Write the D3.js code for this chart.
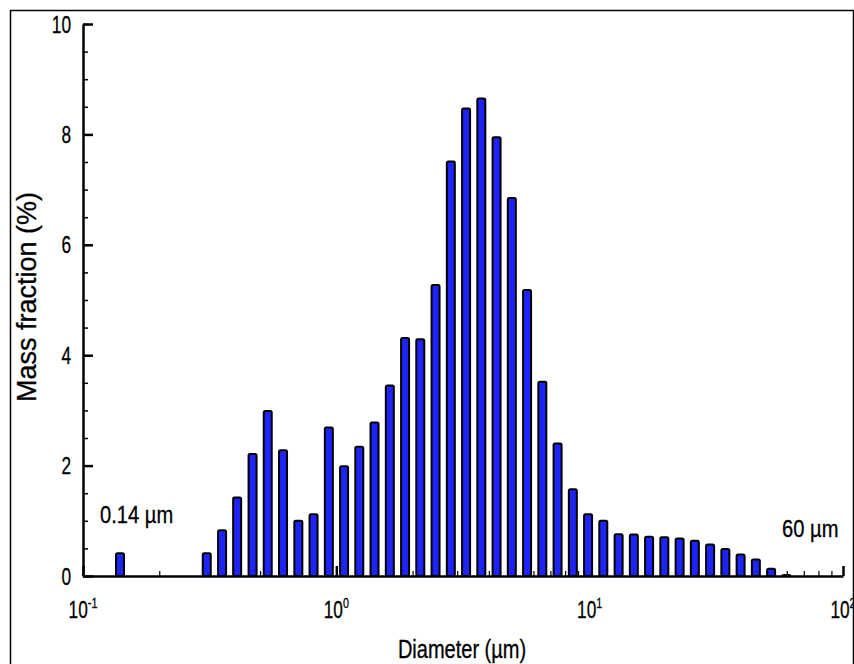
<!DOCTYPE html>
<html>
<head>
<meta charset="utf-8">
<script src="https://cdn.jsdelivr.net/npm/d3@7"></script>
<style>
  body { margin: 0; background: #fff; }
  text { font-family: "Liberation Sans", Arial, sans-serif; fill: #000; }
</style>
</head>
<body>
<div id="chart"></div>
<script>
// Bin diameters (um) and mass fraction (%)
const diameters = [0.14,
  0.308, 0.354, 0.406, 0.467, 0.536, 0.616, 0.708, 0.813, 0.934, 1.073,
  1.232, 1.415, 1.626, 1.868, 2.145, 2.464, 2.831, 3.252, 3.735, 4.291,
  4.928, 5.661, 6.503, 7.470, 8.581, 9.856, 11.32, 13.01, 14.94, 17.16,
  19.71, 22.65, 26.01, 29.88, 34.33, 39.43, 45.29, 52.03, 59.77];
const massFraction = [0.41,
  0.41, 0.83, 1.42, 2.21, 2.99, 2.28, 1.00, 1.12, 2.69, 1.99,
  2.34, 2.78, 3.45, 4.31, 4.29, 5.27, 7.51, 8.47, 8.65, 7.95,
  6.85, 5.18, 3.52, 2.40, 1.57, 1.12, 1.00, 0.755, 0.75, 0.71,
  0.70, 0.68, 0.64, 0.57, 0.49, 0.39, 0.30, 0.13, 0.02];
const yTicks = [0, 2, 4, 6, 8, 10];
const xTicks = [0.1, 1, 10, 100];
const xTickExps = ["-1", "0", "1", "2"];
const notes = ["0.14 \u00b5m", "60 \u00b5m"];

const W = 854, H = 664;
const svg = d3.select("#chart").append("svg")
  .attr("width", W).attr("height", H);

// Outer frame
svg.append("rect")
  .attr("x", 10.5).attr("y", 10.5)
  .attr("width", 843).attr("height", 670)
  .attr("fill", "none").attr("stroke", "#000").attr("stroke-width", 1.5);

// Scales
const x = d3.scaleLog().domain([0.1, 100]).range([83, 843]);
const y = d3.scaleLinear().domain([0, 10]).range([576, 24]);

// squeezed text helper (the original lettering is narrow)
function label(g, px, py, str, size, sx, anchor) {
  return g.append("text")
    .attr("transform", `translate(${px},${py}) scale(${sx},1)`)
    .attr("text-anchor", anchor || "start")
    .attr("font-size", size)
    .attr("stroke", "#000").attr("stroke-width", 0.3)
    .text(str);
}

// Minor ticks
const xMinor = [];
[0.1, 1, 10].forEach(b => d3.range(2, 10).forEach(k => xMinor.push(b * k)));
svg.append("g")
  .attr("transform", `translate(0,${y(0)})`)
  .call(d3.axisBottom(x).tickValues(xMinor).tickSize(-5).tickSizeOuter(0).tickFormat(""))
  .call(g => g.select(".domain").remove())
  .call(g => g.selectAll("line").attr("stroke-width", 1.2));
svg.append("g")
  .attr("transform", `translate(${x(0.1)},0)`)
  .call(d3.axisLeft(y).tickValues(d3.range(0, 10.01, 0.5)).tickSize(-5).tickSizeOuter(0).tickFormat(""))
  .call(g => g.select(".domain").remove())
  .call(g => g.selectAll("line").attr("stroke-width", 1.5));

// Major ticks + axis lines
const xAxis = svg.append("g")
  .attr("transform", `translate(0,${y(0)})`)
  .call(d3.axisBottom(x).tickValues(xTicks).tickSize(-10).tickSizeOuter(0).tickFormat(""));
const yAxis = svg.append("g")
  .attr("transform", `translate(${x(0.1)},0)`)
  .call(d3.axisLeft(y).tickValues(yTicks).tickSize(-10).tickSizeOuter(0).tickFormat(""));
[xAxis, yAxis].forEach(a => {
  a.select(".domain").attr("stroke-width", 2.5);
  a.selectAll("line").attr("stroke-width", 2.5);
});

// Bars
svg.append("g").selectAll("rect")
  .data(diameters)
  .join("rect")
  .attr("x", d => x(d) - 4)
  .attr("width", 8)
  .attr("y", (d, i) => y(massFraction[i]))
  .attr("height", (d, i) => y(0) - y(massFraction[i]))
  .attr("rx", 1.5)
  .attr("fill", "#1c24f8")
  .attr("stroke", "#000")
  .attr("stroke-width", 2);

// Y tick labels
yTicks.forEach(t => label(svg, 71, y(t) + 8.5, t, 24, 0.72, "end"));

// X tick labels 10^n
xTicks.forEach((t, i) => {
  const tx = svg.append("text")
    .attr("transform", `translate(${x(t)},618) scale(0.72,1)`)
    .attr("text-anchor", "middle")
    .attr("font-size", 24)
    .attr("stroke", "#000").attr("stroke-width", 0.3);
  tx.append("tspan").text("10");
  tx.append("tspan").attr("font-size", 15).attr("dy", -10).text(xTickExps[i]);
});

// Annotations
label(svg, 100, 523, notes[0], 24, 0.84);
label(svg, 782, 537, notes[1], 24, 0.84);

// Axis titles
label(svg, 462, 658, "Diameter (\u00b5m)", 26, 0.77, "middle");
svg.append("text")
  .attr("transform", `translate(36,297) rotate(-90)`)
  .attr("text-anchor", "middle")
  .attr("font-size", 27)
  .attr("stroke", "#000").attr("stroke-width", 0.3)
  .text("Mass fraction (%)");
</script>
</body>
</html>
